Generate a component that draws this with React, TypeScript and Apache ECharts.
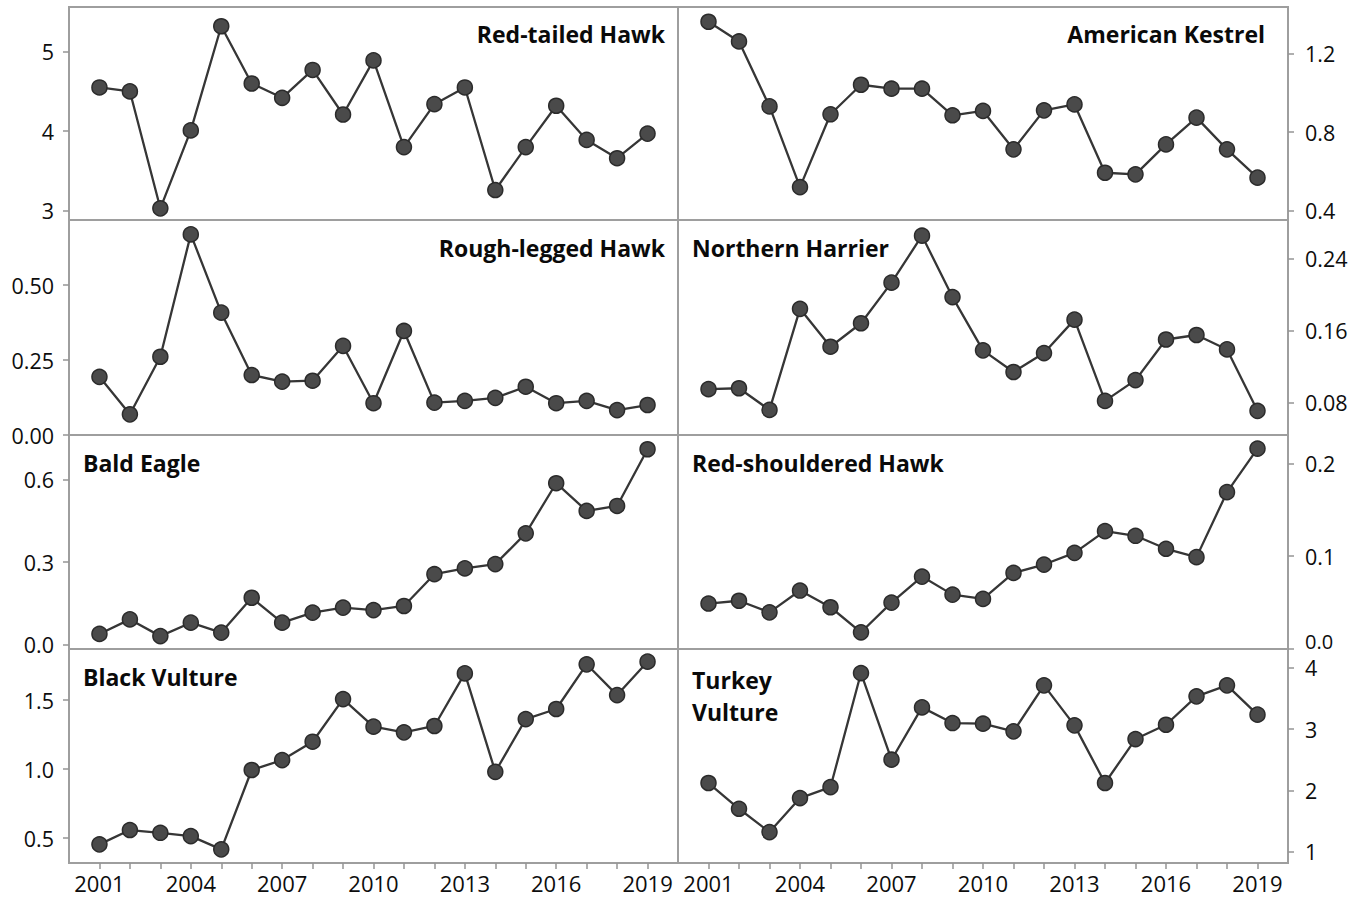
import React, { useEffect, useRef } from "react";
import * as echarts from "echarts";

const years = [2001, 2002, 2003, 2004, 2005, 2006, 2007, 2008, 2009, 2010, 2011, 2012, 2013, 2014, 2015, 2016, 2017, 2018, 2019];
const yearLabels = [2001, 2004, 2007, 2010, 2013, 2016, 2019];

const redTailedHawk = [4.55, 4.5, 3.03, 4.01, 5.32, 4.6, 4.42, 4.77, 4.21, 4.89, 3.8, 4.34, 4.55, 3.26, 3.8, 4.32, 3.89, 3.66, 3.97];
const americanKestrel = [1.36, 1.26, 0.93, 0.52, 0.89, 1.04, 1.02, 1.02, 0.885, 0.907, 0.712, 0.91, 0.94, 0.593, 0.585, 0.737, 0.873, 0.712, 0.568];
const roughLeggedHawk = [0.194, 0.069, 0.261, 0.669, 0.408, 0.2, 0.178, 0.181, 0.297, 0.106, 0.347, 0.108, 0.114, 0.124, 0.161, 0.106, 0.114, 0.083, 0.1];
const northernHarrier = [0.095, 0.096, 0.072, 0.184, 0.142, 0.168, 0.213, 0.265, 0.197, 0.138, 0.114, 0.135, 0.172, 0.082, 0.105, 0.15, 0.155, 0.139, 0.071];
const baldEagle = [0.038, 0.091, 0.03, 0.079, 0.043, 0.17, 0.079, 0.116, 0.134, 0.125, 0.14, 0.256, 0.277, 0.293, 0.405, 0.588, 0.487, 0.505, 0.712];
const redShoulderedHawk = [0.049, 0.052, 0.0395, 0.063, 0.045, 0.018, 0.05, 0.078, 0.0586, 0.054, 0.082, 0.091, 0.1036, 0.127, 0.122, 0.108, 0.099, 0.169, 0.216];
const blackVulture = [0.454, 0.558, 0.538, 0.514, 0.418, 0.993, 1.065, 1.198, 1.507, 1.307, 1.266, 1.312, 1.693, 0.98, 1.362, 1.435, 1.759, 1.536, 1.778];
const turkeyVulture = [2.12, 1.7, 1.32, 1.875, 2.054, 3.913, 2.5, 3.353, 3.098, 3.087, 2.962, 3.712, 3.06, 2.12, 2.837, 3.07, 3.533, 3.712, 3.234];

const ticksRedTailed = [3, 4, 5];
const ticksKestrel = [0.4, 0.8, 1.2];
const ticksRoughLegged = [0, 0.25, 0.5];
const ticksHarrier = [0.08, 0.16, 0.24];
const ticksBaldEagle = [0, 0.3, 0.6];
const ticksRedShouldered = [0, 0.1, 0.2];
const ticksBlackVulture = [0.5, 1.0, 1.5];
const ticksTurkeyVulture = [1, 2, 3, 4];

const panels = [
  { name: "Red-tailed Hawk", data: redTailedHawk, ticks: ticksRedTailed, dec: 0, min: 2.883, max: 5.562, col: 0, row: 0, titleSide: "right", liftMin: false },
  { name: "American Kestrel", data: americanKestrel, ticks: ticksKestrel, dec: 1, min: 0.353, max: 1.435, col: 1, row: 0, titleSide: "right", liftMin: false },
  { name: "Rough-legged Hawk", data: roughLeggedHawk, ticks: ticksRoughLegged, dec: 2, min: 0, max: 0.717, col: 0, row: 1, titleSide: "right", liftMin: false },
  { name: "Northern Harrier", data: northernHarrier, ticks: ticksHarrier, dec: 2, min: 0.0442, max: 0.2824, col: 1, row: 1, titleSide: "left", liftMin: false },
  { name: "Bald Eagle", data: baldEagle, ticks: ticksBaldEagle, dec: 1, min: -0.017, max: 0.764, col: 0, row: 2, titleSide: "left", liftMin: false },
  { name: "Red-shouldered Hawk", data: redShoulderedHawk, ticks: ticksRedShouldered, dec: 1, min: 0, max: 0.2306, col: 1, row: 2, titleSide: "left", liftMin: true },
  { name: "Black Vulture", data: blackVulture, ticks: ticksBlackVulture, dec: 1, min: 0.319, max: 1.87, col: 0, row: 3, titleSide: "left", liftMin: false },
  { name: "Turkey\nVulture", data: turkeyVulture, ticks: ticksTurkeyVulture, dec: 0, min: 0.816, max: 4.305, col: 1, row: 3, titleSide: "left", liftMin: false },
];

const rowTops = [7, 220, 435, 649];
const rowHeights = [213, 215, 214, 214];
const colLefts = [69, 678];
const colWidths = [609, 610];
const titleCenters = [34, 248, 463, 677];
const titleRightEdges = [665, 1265];

const FONT = "'Open Sans', 'Noto Sans', sans-serif";
const Y_FONT_SIZE = 21.5;

export default function App() {
  const ref = useRef<HTMLDivElement>(null);
  useEffect(() => {
    if (!ref.current) return;
    const chart = echarts.init(ref.current, undefined, { renderer: "svg" });
    const grids: any[] = [];
    const xAxes: any[] = [];
    const yAxes: any[] = [];
    const series: any[] = [];
    const titles: any[] = [];
    panels.forEach((p, i) => {
      grids.push({
        left: colLefts[p.col],
        top: rowTops[p.row],
        width: colWidths[p.col],
        height: rowHeights[p.row],
        show: true,
        borderColor: "#9e9e9e",
        borderWidth: 2,
        backgroundColor: "transparent",
        containLabel: false,
      });
      const bottom = p.row === 3;
      xAxes.push({
        type: "value",
        gridIndex: i,
        min: 2000,
        max: 2020,
        axisLine: { show: false },
        splitLine: { show: false },
        axisTick: {
          show: bottom,
          length: 6,
          lineStyle: { color: "#959595", width: 1.5 },
          customValues: years,
        },
        axisLabel: {
          show: bottom,
          customValues: yearLabels,
          formatter: (v: number) => String(v),
          fontSize: 22,
          fontFamily: FONT,
          color: "#0d0d0d",
          margin: 9,
        },
      });
      yAxes.push({
        type: "value",
        gridIndex: i,
        position: p.col === 0 ? "left" : "right",
        min: p.min,
        max: p.max,
        axisLine: { show: false },
        splitLine: { show: false },
        axisTick: {
          show: true,
          length: 6,
          lineStyle: { color: "#959595", width: 1.5 },
          customValues: p.ticks,
        },
        axisLabel: {
          customValues: p.ticks,
          formatter: (v: number) => {
            const s = v.toFixed(p.dec);
            return p.liftMin && v === p.ticks[0] ? "{lift|" + s + "}" : s;
          },
          fontSize: Y_FONT_SIZE,
          lineHeight: 16,
          fontFamily: FONT,
          color: "#0d0d0d",
          margin: p.col === 0 ? 15 : 17,
          rich: {
            lift: {
              fontSize: 20,
              fontFamily: FONT,
              color: "#0d0d0d",
              lineHeight: 15,
              padding: [0, 0, 15, 0],
            },
          },
        },
      });
      series.push({
        type: "line",
        xAxisIndex: i,
        yAxisIndex: i,
        data: years.map((y, k) => [y, p.data[k]]),
        symbol: "circle",
        symbolSize: 15,
        showSymbol: true,
        lineStyle: { color: "#363636", width: 2.3 },
        itemStyle: { color: "#4a4a4a", borderColor: "#2b2b2b", borderWidth: 1.5 },
        emphasis: { disabled: true },
        z: 3,
      });
      const multi = p.name.includes("\n");
      const lh = 32;
      const tObj: any = {
        text: p.name,
        padding: 0,
        top: titleCenters[p.row] - lh / 2,
        textStyle: {
          fontFamily: FONT,
          fontWeight: 700,
          fontSize: 23,
          color: "#0a0a0a",
          lineHeight: lh,
        },
      };
      if (p.titleSide === "right") {
        tObj.right = 1366 - titleRightEdges[p.col];
      } else {
        tObj.left = colLefts[p.col] + 14;
      }
      if (multi) tObj.top = titleCenters[p.row] - lh / 2 + 3;
      titles.push(tObj);
    });
    chart.setOption({
      animation: false,
      backgroundColor: "#ffffff",
      title: titles,
      grid: grids,
      xAxis: xAxes,
      yAxis: yAxes,
      series,
    });
    return () => chart.dispose();
  }, []);
  return (
    <div
      ref={ref}
      style={{ position: "fixed", left: 0, top: 0, width: 1366, height: 903 }}
    />
  );
}
